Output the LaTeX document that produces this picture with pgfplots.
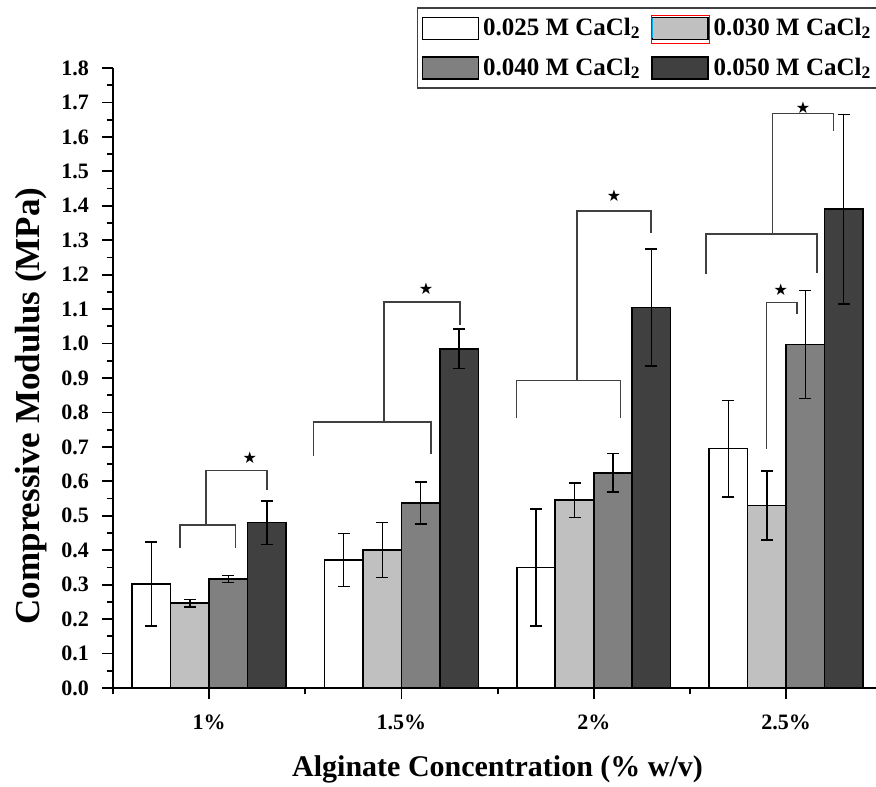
\documentclass[border=0pt]{standalone}
\usepackage{fontspec}
\setmainfont{Liberation Serif}
\newfontfamily\dejavu{DejaVu Sans}
\usepackage{pgfplots}
\pgfplotsset{compat=1.18}
\definecolor{cW}{HTML}{FFFFFF}
\definecolor{cL}{HTML}{C0C0C0}
\definecolor{cG}{HTML}{808080}
\definecolor{cD}{HTML}{404040}
\pgfplotsset{
  barst/.style={ybar, bar width=0.2, bar shift=0pt, draw=black, line width=0.8pt,
    error bars/y dir=both, error bars/y explicit,
    error bars/error bar style={line width=0.7pt, black},
    error bars/error mark options={rotate=90, mark size=3pt, line width=0.7pt, black}},
  leg/.style={legend image code/.code={\draw[##1, line width=0.7pt] (0pt,-5.5pt) rectangle (28pt,5.5pt);}},
  legred/.style={legend image code/.code={\draw[##1, line width=0.7pt] (0pt,-5.5pt) rectangle (28pt,5.5pt);
     \draw[draw=red, fill=none, line width=0.5pt] (-0.5pt,-7.5pt) rectangle (28.5pt,6.5pt);
     \draw[draw=cyan, fill=none, line width=0.5pt] (0pt,-5pt) -- (0pt,5pt);}},
  brk/.style={sharp plot, no markers, draw=black!75, line width=0.7pt, forget plot},
}
\newcommand{\sigstar}{{\dejavu\fontsize{8}{8}\selectfont ★}}
\begin{document}
\begin{tikzpicture}
\begin{axis}[
  scale only axis,
  width=384.6pt, height=310pt,
  xmin=-0.5, xmax=3.5, ymin=0, ymax=1.8,
  axis x line*=bottom, axis y line*=left,
  axis line style={line width=1.1pt},
  xtick={0,1,2,3}, xticklabels={1\%,1.5\%,2\%,2.5\%},
  minor xtick={-0.5,0.5,1.5,2.5,3.5},
  ytick distance=0.1,
  minor y tick num=1,
  tick align=outside,
  major tick length=5.5pt, minor tick length=3.2pt,
  every tick/.style={black, line width=0.9pt},
  /pgf/number format/assume math mode=true,
  yticklabel style={/pgf/number format/fixed, /pgf/number format/fixed zerofill, /pgf/number format/precision=1, xshift=-3pt},
  xticklabel style={yshift=-4.5pt},
  ticklabel style={font=\bfseries\fontsize{11}{12}\selectfont},
  ylabel={Compressive Modulus (MPa)},
  ylabel style={font=\bfseries\fontsize{17.5}{20}\selectfont, at={(axis description cs:-0.107,0.455)}, anchor=center, rotate=0},
  xlabel={Alginate Concentration (\% w/v)},
  xlabel style={font=\bfseries\fontsize{15}{18}\selectfont, at={(axis description cs:0.5,-0.1426)}, anchor=base},
  legend columns=2,
  legend cell align=left,
  legend style={at={(axis description cs:0.395,1.098)}, anchor=north west, draw=black!75, line width=0.8pt,
     font=\bfseries\fontsize{12.5}{14}\selectfont, inner xsep=2pt, inner ysep=3pt, row sep=5pt,
     /tikz/every even column/.append style={column sep=3pt}},
  clip=false,
]
\addplot[barst, fill=cW, leg] coordinates {
  (-0.3,0.302) +- (0,0.122)
  (0.7,0.371) +- (0,0.077)
  (1.7,0.350) +- (0,0.170)
  (2.7,0.695) +- (0,0.140)
};
\addlegendentry{0.025 M CaCl\textsubscript{2}}
\addplot[barst, fill=cL, legred] coordinates {
  (-0.1,0.246) +- (0,0.011)
  (0.9,0.400) +- (0,0.080)
  (1.9,0.545) +- (0,0.050)
  (2.9,0.530) +- (0,0.100)
};
\addlegendentry{0.030 M CaCl\textsubscript{2}}
\addplot[barst, fill=cG, leg] coordinates {
  (0.1,0.316) +- (0,0.010)
  (1.1,0.537) +- (0,0.061)
  (2.1,0.625) +- (0,0.056)
  (3.1,0.997) +- (0,0.157)
};
\addlegendentry{0.040 M CaCl\textsubscript{2}}
\addplot[barst, fill=cD, leg] coordinates {
  (0.3,0.480) +- (0,0.063)
  (1.3,0.985) +- (0,0.057)
  (2.3,1.105) +- (0,0.170)
  (3.3,1.390) +- (0,0.275)
};
\addlegendentry{0.050 M CaCl\textsubscript{2}}
% significance brackets
\addplot[brk] coordinates {(-0.152,0.406) (-0.152,0.473) (0.137,0.473) (0.137,0.406)};
\addplot[brk] coordinates {(-0.016,0.473) (-0.016,0.632) (0.300,0.632) (0.300,0.575)};
\addplot[brk] coordinates {(0.542,0.675) (0.542,0.772) (1.154,0.772) (1.154,0.678)};
\addplot[brk] coordinates {(0.910,0.772) (0.910,1.121) (1.305,1.121) (1.305,1.053)};
\addplot[brk] coordinates {(1.598,0.783) (1.598,0.892) (2.139,0.892) (2.139,0.783)};
\addplot[brk] coordinates {(1.912,0.892) (1.912,1.385) (2.297,1.385) (2.297,1.320)};
\addplot[brk] coordinates {(2.583,1.201) (2.583,1.318) (3.160,1.318) (3.160,1.204)};
\addplot[brk] coordinates {(2.931,1.318) (2.931,1.668) (3.246,1.668) (3.246,1.617)};
\addplot[brk] coordinates {(2.898,0.694) (2.898,1.120) (3.056,1.120) (3.056,1.085)};
\node at (axis cs:0.212,0.668) {\sigstar};
\node at (axis cs:1.128,1.159) {\sigstar};
\node at (axis cs:2.106,1.428) {\sigstar};
\node at (axis cs:3.089,1.686) {\sigstar};
\node at (axis cs:2.973,1.157) {\sigstar};
\coordinate (O) at (axis cs:-0.5,0);
\end{axis}
\pgfresetboundingbox
\path[use as bounding box] ([shift={(-56.5pt,-49pt)}]O) rectangle ([shift={(381.5pt,344pt)}]O);
\end{tikzpicture}
\end{document}
